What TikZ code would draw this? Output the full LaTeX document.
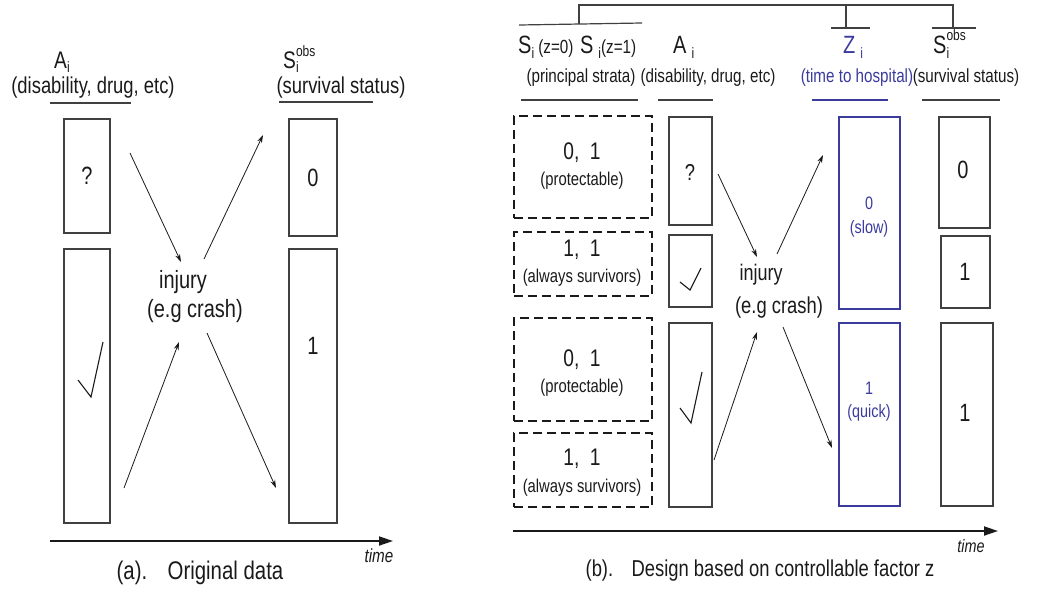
\documentclass[tikz,border=0pt]{standalone}
\usepackage{fontspec}
\setmainfont{Liberation Sans}[FakeStretch=0.8]
\usetikzlibrary{arrows.meta,fit}
\definecolor{ink}{HTML}{1A1A1A}
\definecolor{boxgray}{HTML}{404040}
\definecolor{zblue}{HTML}{3B3B9E}
\newcommand{\fs}[1]{\fontsize{#1}{#1}\selectfont}
\newcommand{\subi}[1]{\raisebox{-0.2em}{\fs{#1}i}}
\newcommand{\supobs}[1]{\rlap{\raisebox{0.5em}{\fs{#1}obs}}}
\begin{document}
\begin{tikzpicture}[x=1pt,y=-1pt,
  t/.style={inner sep=0pt, text=ink},
  tb/.style={inner sep=0pt, text=zblue},
  box/.style={draw=boxgray, line width=1.2pt, inner sep=0pt},
  zbox/.style={draw=zblue, line width=1.2pt, inner sep=0pt},
  dbox/.style={draw=ink, line width=2.2pt, dash pattern=on 9pt off 5pt, inner sep=0pt},
  rule/.style={draw=boxgray, line width=1.2pt},
  arr/.style={draw=ink, line width=0.8pt, -{Stealth[length=8pt,width=5pt]}},
  axis/.style={draw=ink, line width=1.8pt, -{Triangle[length=14pt,width=9pt]}},
  tick/.style={draw=ink, line width=1.1pt}]
\useasboundingbox (0,0) rectangle (1038,592);

% ---------------- panel (a) ----------------
\node[t, anchor=base west] (aAi) at (54,68) {\fs{24}A\subi{15}};
\node[t] (aAd) at (93,88) {\fs{23}(disability, drug, etc)};
\draw[rule] (50,103) -- (131,103);
\node[t, anchor=base west] (aSi) at (283,68) {\fs{24}S\supobs{15}\subi{15}};
\node[t] (aSd) at (341,88) {\fs{23}(survival status)};
\draw[rule] (279,102) -- (373,102);

\node[box, fit={(64,119)(110,233)}] (aq) {};
\node[t] (aqt) at (aq.center) {\fs{25}?};
\node[box, fit={(64,249)(110,523)}] (ack) {};
\draw[tick] (78,380) -- (91,397) -- (103,342);
\node[box, fit={(289,119)(337,236)}] (a0) {};
\node[t] (a0t) at (a0.center) {\fs{25}0};
\node[box, fit={(289,249)(337,523)}] (a1) {};
\node[t] (a1t) at (313,346) {\fs{25}1};

\node[t] (ainj) at (183,282) {\fs{25}injury};
\node[t] (acr) at (195,311) {\fs{25}(e.g crash)};

\coordinate (a1s) at (130,153); \coordinate (a1e) at (181,262);
\coordinate (a2s) at (204,259); \coordinate (a2e) at (263,135);
\coordinate (a3s) at (124,488); \coordinate (a3e) at (179,342);
\coordinate (a4s) at (207,333); \coordinate (a4e) at (276,488);
\draw[arr] (a1s) -- (a1e);
\draw[arr] (a2s) -- (a2e);
\draw[arr] (a3s) -- (a3e);
\draw[arr] (a4s) -- (a4e);

\coordinate (axa0) at (50,541); \coordinate (axa1) at (393,541);
\draw[axis] (axa0) -- (axa1);
\node[t] (atime) at (379,556) {\fs{19}\itshape time};
\node[t] (acap) at (200,573) {\fs{25.5}(a).\hspace{0.8em}Original data};

% ---------------- panel (b) ----------------
\draw[rule] (579,24) -- (579,5) -- (953,5) -- (953,28);
\draw[rule] (846,5) -- (846,28);
\draw[rule] (519,25) -- (642,23);
\draw[rule] (831,28) -- (870,28);
\draw[rule] (932,28) -- (976,28);

\node[t, anchor=base west] (bSz) at (518,53) {\fs{25}S\subi{15}\,\fs{19}(z=0)\hspace{0.35em}\fs{25}S\hspace{0.2em}\subi{15}\fs{19}(z=1)};
\node[t, anchor=base west] (bAi) at (673,53) {\fs{25}A\hspace{0.2em}\subi{15}};
\node[tb, anchor=base west] (bZi) at (843,53) {\fs{25}Z\hspace{0.2em}\subi{15}};
\node[t, anchor=base west] (bSi) at (933,53) {\fs{25}S\supobs{15}\subi{15}};

\node[t] (bSd) at (581,78) {\fs{19}(principal strata)};
\node[t] (bAd) at (708,78) {\fs{19}(disability, drug, etc)};
\node[tb] (bZd) at (857,78) {\fs{19}(time to hospital)};
\node[t] (bOd) at (966,78) {\fs{19}(survival status)};
\draw[rule] (521,100) -- (638,100);
\draw[rule] (658,100) -- (713,100);
\draw[rule, draw=zblue] (812,100) -- (888,100);
\draw[rule] (922,100) -- (1000,100);

% principal strata
\node[dbox, fit={(514,116)(652,218)}] (d1) {};
\node[t] (d1a) at (582,153) {\fs{24}0,\ \ 1};
\node[t] (d1b) at (582,181) {\fs{18.5}(protectable)};
\node[dbox, fit={(514,232)(652,296)}] (d2) {};
\node[t] (d2a) at (582,250) {\fs{24}1,\ \ 1};
\node[t] (d2b) at (582,278) {\fs{18.5}(always survivors)};
\node[dbox, fit={(514,318)(652,421)}] (d3) {};
\node[t] (d3a) at (582,360) {\fs{24}0,\ \ 1};
\node[t] (d3b) at (582,388) {\fs{18.5}(protectable)};
\node[dbox, fit={(514,433)(652,507)}] (d4) {};
\node[t] (d4a) at (582,459) {\fs{24}1,\ \ 1};
\node[t] (d4b) at (582,488) {\fs{18.5}(always survivors)};

% A column
\node[box, fit={(669,117)(712,225)}] (bq) {};
\node[t] (bqt) at (690,172) {\fs{23}?};
\node[box, fit={(669,235)(712,307)}] (bc1) {};
\draw[tick] (680,282) -- (690,290) -- (701,268);
\node[box, fit={(669,323)(712,507)}] (bc2) {};
\draw[tick] (680,408) -- (691,423) -- (702,372);

% injury
\node[t] (binj) at (761,275) {\fs{22.5}injury};
\node[t] (bcr) at (779,308) {\fs{23}(e.g crash)};
\coordinate (b1s) at (718,174); \coordinate (b1e) at (757,257);
\coordinate (b2s) at (777,254); \coordinate (b2e) at (823,155);
\coordinate (b3s) at (714,460); \coordinate (b3e) at (757,332);
\coordinate (b4s) at (783,327); \coordinate (b4e) at (832,448);
\draw[arr] (b1s) -- (b1e);
\draw[arr] (b2s) -- (b2e);
\draw[arr] (b3s) -- (b3e);
\draw[arr] (b4s) -- (b4e);

% Z column
\node[zbox, fit={(839,117)(900,309)}] (z0) {};
\node[tb] (z0a) at (869,203) {\fs{18}0};
\node[tb] (z0b) at (869,229) {\fs{18}(slow)};
\node[zbox, fit={(839,323)(900,506)}] (z1) {};
\node[tb] (z1a) at (869,388) {\fs{18}1};
\node[tb] (z1b) at (869,413) {\fs{18}(quick)};

% S column
\node[box, fit={(939,117)(990,228)}] (s0) {};
\node[t] (s0t) at (963,170) {\fs{25}0};
\node[box, fit={(941,236)(990,308)}] (s1) {};
\node[t] (s1t) at (965,272) {\fs{25}1};
\node[box, fit={(941,323)(993,506)}] (s2) {};
\node[t] (s2t) at (965,413) {\fs{25}1};

\coordinate (axb0) at (513,531); \coordinate (axb1) at (998,531);
\draw[axis] (axb0) -- (axb1);
\node[t] (btime) at (971,546) {\fs{18}\itshape time};
\node[t] (bcap) at (760,571) {\fs{23}(b).\hspace{0.8em}Design based on controllable factor z};
\end{tikzpicture}
\end{document}
